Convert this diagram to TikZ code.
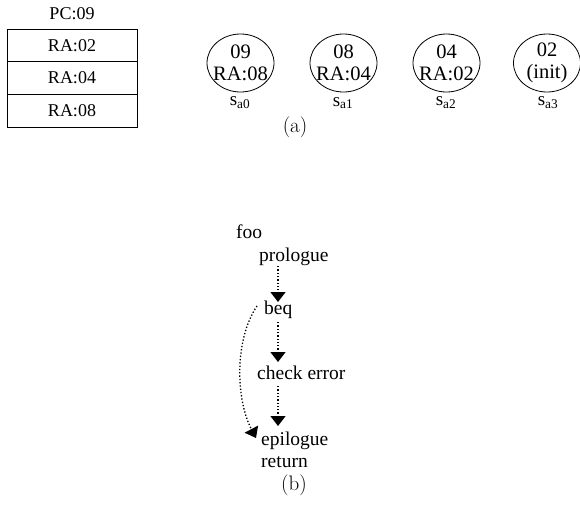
\documentclass[tikz,border=0pt]{standalone}
\usepackage{fontspec}
\setmainfont{Liberation Serif}
\newfontfamily\lmfont{Latin Modern Roman}
\usetikzlibrary{arrows.meta}
\tikzset{
  lbl/.style={inner sep=0pt, font=\fontsize{19.5}{22}\selectfont},
  slbl/.style={inner sep=0pt, font=\fontsize{19}{22}\selectfont},
  subcap/.style={inner sep=0pt, font=\lmfont\fontsize{21}{24}\selectfont},
  cell/.style={draw, line width=0.8pt, minimum width=130pt, minimum height=32.7pt, inner sep=0pt, font=\fontsize{18}{21}\selectfont},
  state/.style={inner sep=0pt, align=center, font=\fontsize{20.5}{21.5}\selectfont},
  ring/.style={line width=0.8pt},
  flow/.style={line width=1.3pt, dotted, -{Triangle[width=15pt,length=10pt]}},
}
\begin{document}
\begin{tikzpicture}[x=1pt,y=-1pt]
\useasboundingbox (0,0) rectangle (580,504);
% stack
\node[cell, draw=none] (pc) at (72,14) {PC:09};
\node[cell] (r1) at (72,45.3) {RA:02};
\node[cell] (r2) at (72,78) {RA:04};
\node[cell] (r3) at (72,110.7) {RA:08};
% states
\node[state] (s0) at (240.5,63) {09\\RA:08};
\node[state] (s1) at (343.5,63) {08\\RA:04};
\node[state] (s2) at (446.5,63) {04\\RA:02};
\node[state] (s3) at (547,63) {02\\(init)};
\foreach \s in {s0,s1,s2,s3}
  \draw[ring] (\s.center) ellipse [x radius=33.5pt, y radius=29pt];
\node[slbl] (l0) at (240,103) {s\textsubscript{a0}};
\node[slbl] (l1) at (343,103) {s\textsubscript{a1}};
\node[slbl] (l2) at (446,103) {s\textsubscript{a2}};
\node[slbl] (l3) at (548,103) {s\textsubscript{a3}};
\node[subcap] (ca) at (295,127) {(a)};
% flow
\node[lbl, anchor=west] (foo) at (236,232) {foo};
\node[lbl, anchor=west] (pro) at (259,257) {prologue};
\node[lbl, anchor=west] (beq) at (264,310) {beq};
\node[lbl, anchor=west] (chk) at (257,373) {check error};
\node[lbl, anchor=west] (epi) at (261,441) {epilogue};
\node[lbl, anchor=west] (ret) at (261,462) {return};
\node[subcap] (cb) at (294,485) {(b)};
\coordinate (a1s) at (278,266);
\coordinate (a1e) at (278,302);
\coordinate (a2s) at (278,322);
\coordinate (a2e) at (278,362);
\coordinate (a3s) at (278,386);
\coordinate (a3e) at (278,426);
\draw[flow] (a1s) -- (a1e);
\draw[flow] (a2s) -- (a2e);
\draw[flow] (a3s) -- (a3e);
\coordinate (cs) at (257,306);
\coordinate (ce) at (256,438);
\draw[flow] (cs) .. controls (234,340) and (236,400) .. (ce);
\end{tikzpicture}
\end{document}
